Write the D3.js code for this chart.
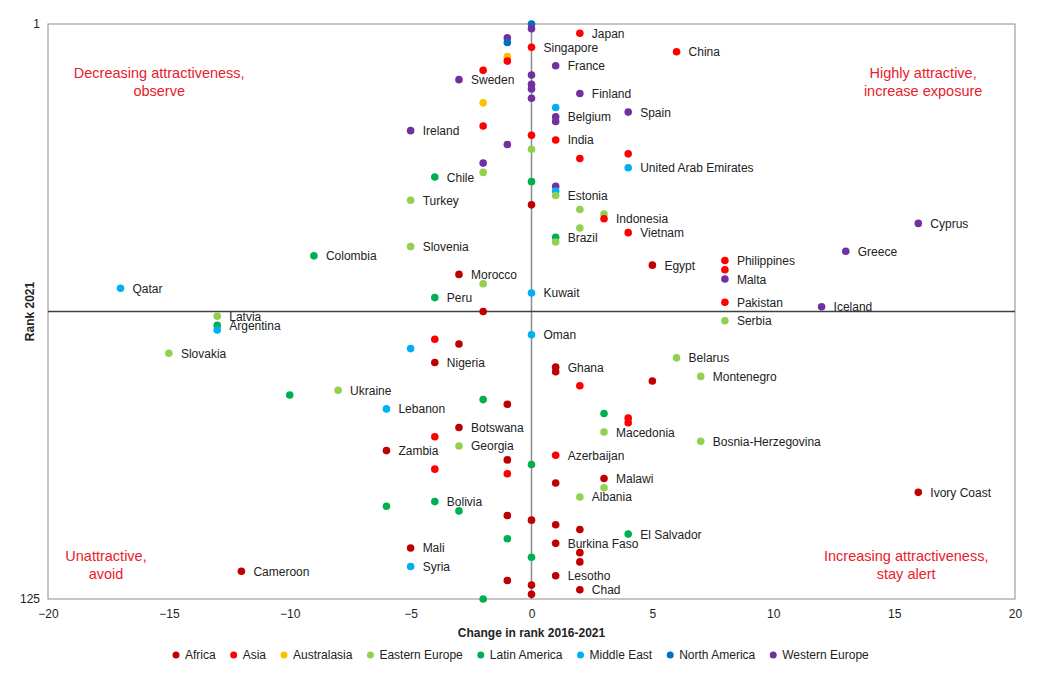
<!DOCTYPE html>
<html><head><meta charset="utf-8">
<script src="https://cdn.jsdelivr.net/npm/d3@7"></script>
<style>body{margin:0;background:#fff;font-family:"Liberation Sans",Arial,sans-serif}</style>
</head><body><svg id="c" width="1050" height="675"></svg>
<script>
const regions=["Africa","Asia","Australasia","Eastern Europe","Latin America","Middle East","North America","Western Europe"];
const colors=["#c00000","#ff0000","#ffc000","#92d050","#00b050","#00b0f0","#0070c0","#7030a0"];
const xTicks=[-20,-15,-10,-5,0,5,10,15,20];
const yTicks=[1,125];
// [change, rank, regionIndex, label]
const points=[
[0,1,6,""],[0,2,7,""],[-1,4,7,""],[-1,5,6,""],[-1,8,2,""],[-1,9,1,""],[0,6,1,"Singapore"],[2,3,1,"Japan"],[6,7,1,"China"],
[1,10,7,"France"],[-2,11,1,""],[-3,13,7,"Sweden"],[0,12,7,""],[0,14,7,""],[0,15,7,""],[0,17,7,""],[2,16,7,"Finland"],
[-2,18,2,""],[1,19,5,""],[4,20,7,"Spain"],[1,21,7,"Belgium"],[1,22,7,""],[-5,24,7,"Ireland"],[-2,23,1,""],[0,25,1,""],
[1,26,1,"India"],[-1,27,7,""],[0,28,3,""],[4,29,1,""],[2,30,1,""],[4,32,5,"United Arab Emirates"],[-2,31,7,""],[-2,33,3,""],
[-4,34,4,"Chile"],[0,35,4,""],[1,36,7,""],[1,37,5,""],[1,38,3,"Estonia"],[-5,39,3,"Turkey"],[0,40,0,""],[2,41,3,""],
[3,42,3,""],[3,43,1,"Indonesia"],[2,45,3,""],[4,46,1,"Vietnam"],[1,47,4,"Brazil"],[1,48,3,""],[-5,49,3,"Slovenia"],
[-9,51,4,"Colombia"],[5,53,0,"Egypt"],[-3,55,0,"Morocco"],[-2,57,3,""],[0,59,5,"Kuwait"],[-4,60,4,"Peru"],[-2,63,0,""],
[-17,58,5,"Qatar"],[8,52,1,"Philippines"],[8,54,1,""],[8,56,7,"Malta"],[8,61,1,"Pakistan"],[12,62,7,"Iceland"],[8,65,3,"Serbia"],
[16,44,7,"Cyprus"],[13,50,7,"Greece"],
[-13,64,3,"Latvia"],[-13,66,4,"Argentina"],[-13,67,5,""],[-15,72,3,"Slovakia"],[0,68,5,"Oman"],[-4,69,1,""],[-3,70,0,""],
[-5,71,5,""],[-4,74,0,"Nigeria"],[1,75,0,"Ghana"],[1,76,0,""],[6,73,3,"Belarus"],[7,77,3,"Montenegro"],[5,78,0,""],[2,79,1,""],
[-8,80,3,"Ukraine"],[-10,81,4,""],[-2,82,4,""],[-1,83,0,""],[-6,84,5,"Lebanon"],[3,85,4,""],[4,86,1,""],[4,87,1,""],
[-3,88,0,"Botswana"],[3,89,3,"Macedonia"],[-4,90,1,""],[7,91,3,"Bosnia-Herzegovina"],[-3,92,3,"Georgia"],[-6,93,0,"Zambia"],
[1,94,1,"Azerbaijan"],[-1,95,0,""],[0,96,4,""],[-4,97,1,""],[-1,98,1,""],[3,99,0,"Malawi"],[1,100,0,""],[3,101,3,""],
[16,102,0,"Ivory Coast"],[2,103,3,"Albania"],[-4,104,4,"Bolivia"],[-6,105,4,""],[-3,106,4,""],[-1,107,0,""],[0,108,0,""],
[1,109,0,""],[2,110,0,""],[4,111,4,"El Salvador"],[-1,112,4,""],[1,113,0,"Burkina Faso"],[2,115,0,""],[0,116,4,""],[2,117,0,""],
[-5,114,0,"Mali"],[-5,118,5,"Syria"],[-12,119,0,"Cameroon"],[-1,121,0,""],[1,120,0,"Lesotho"],[0,122,0,""],[0,124,0,""],
[2,123,0,"Chad"],[-2,125,4,""]
];
const quadrants=[[-15.4,12.6,["Decreasing attractiveness,","observe"]],[16.2,12.6,["Highly attractive,","increase exposure"]],
[-17.6,116.8,["Unattractive,","avoid"]],[15.5,116.8,["Increasing attractiveness,","stay alert"]]];
const midRank=63;

const svg=d3.select("#c");
const L=48,R=1015,T=24,B=599;
const x=d3.scaleLinear().domain([-20,20]).range([L,R]);
const y=d3.scaleLinear().domain([1,125]).range([T,B]);
svg.append("rect").attr("x",L).attr("y",T).attr("width",R-L).attr("height",B-T).attr("fill","none").attr("stroke","#8c8c8c");
svg.append("line").attr("x1",x(0)).attr("x2",x(0)).attr("y1",T).attr("y2",B).attr("stroke","#8c8c8c").attr("stroke-width",1.5);
svg.append("line").attr("x1",L).attr("x2",R).attr("y1",y(midRank)).attr("y2",y(midRank)).attr("stroke","#404040").attr("stroke-width",1.5);
const xa=svg.append("g").attr("transform",`translate(0,${B})`).call(d3.axisBottom(x).tickValues(xTicks).tickSize(0).tickPadding(10));
xa.select(".domain").remove();
const ya=svg.append("g").attr("transform",`translate(${L},0)`).call(d3.axisLeft(y).tickValues(yTicks).tickSize(0).tickPadding(8));
ya.select(".domain").remove();
svg.selectAll(".tick text").attr("font-size",12).attr("fill","#222").attr("font-family","Liberation Sans, Arial");
svg.append("text").attr("x",x(0)).attr("y",637).attr("text-anchor","middle").attr("font-size",12).attr("font-weight","bold").attr("fill","#222").text("Change in rank 2016-2021");
svg.append("text").attr("transform",`translate(34,${y(midRank)}) rotate(-90)`).attr("text-anchor","middle").attr("font-size",12).attr("font-weight","bold").attr("fill","#222").text("Rank 2021");
quadrants.forEach(q=>{const t=svg.append("text").attr("x",x(q[0])).attr("y",y(q[1])).attr("text-anchor","middle").attr("font-size",14.5).attr("fill","#e8202a");
q[2].forEach((s,i)=>t.append("tspan").attr("x",x(q[0])).attr("dy",i?18:0).text(s));});
const g=svg.append("g");
g.selectAll("circle").data(points).join("circle").attr("cx",d=>x(d[0])).attr("cy",d=>y(d[1])).attr("r",3.8).attr("fill",d=>colors[d[2]]);
g.selectAll("text").data(points.filter(d=>d[3])).join("text").attr("x",d=>x(d[0])+12).attr("y",d=>y(d[1])+4.5).attr("font-size",12).attr("fill","#222").text(d=>d[3]);
const lg=svg.append("g");
let lx=176;
regions.forEach((r,i)=>{lg.append("circle").attr("cx",lx).attr("cy",655).attr("r",3.5).attr("fill",colors[i]);
const t=lg.append("text").attr("x",lx+9).attr("y",659).attr("font-size",12).attr("fill","#222").text(r);
lx+=9+t.node().getComputedTextLength()+18;});
</script></body></html>
